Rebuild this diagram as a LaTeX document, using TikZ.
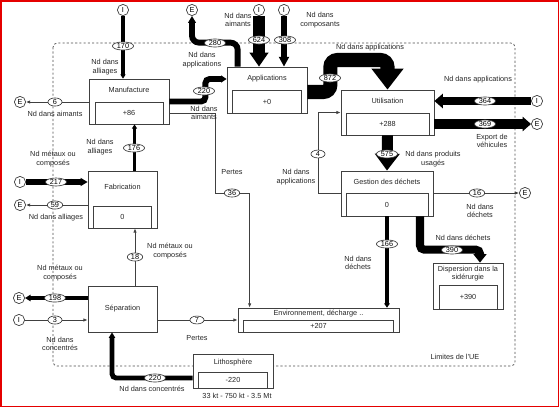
\documentclass[tikz,border=0pt]{standalone}
\usepackage{fontspec}
\setmainfont{Liberation Sans}
\usepackage{tikz}
\usetikzlibrary{shapes,arrows.meta}
\usetikzlibrary{calc}

\tikzset{
  txt/.style={font=\fontsize{5.2}{6.2}\selectfont, text=black!85, align=center, inner sep=0pt},
  box/.style={draw=black!75, fill=white, line width=0.5pt, inner sep=0pt, font=\fontsize{5.2}{6.2}\selectfont, text=black!85, align=center},
  term/.style={circle, draw=black!75, fill=white, line width=0.5pt, inner sep=0pt, minimum size=0.28cm, font=\fontsize{5.2}{6.2}\selectfont},
  lbl/.style={ellipse, draw=black!80, fill=white, line width=0.45pt, inner xsep=1pt, inner ysep=0.2pt, minimum height=5.6pt, minimum width=10pt, font=\fontsize{5.2}{6.2}\selectfont},
  loss/.style={draw=black!75, line width=0.55pt, -{Latex[length=3pt,width=2.4pt]}},
  flow/.style={draw=black, line width=#1},
}

\begin{document}
\begin{tikzpicture}[x=0.025cm, y=-0.025cm]
	\useasboundingbox (0,0) rectangle (560,408);
	\draw[red!90!black, line width=1.4pt] (1,1) rectangle (558.5,406.5);
	
	% limites de l'UE
	\draw[black!70, line width=0.5pt, dash pattern=on 1.5pt off 1.5pt, rounded corners=3pt] (53,43) rectangle (515,366);
	\node[txt] (limits) at (455,357) {Limites de l'UE};
	
	% processus
	\node[box, minimum width=2cm, minimum height=1.125cm] (manu) at (129,101.5) {};
	\node[box, minimum width=1.7cm, minimum height=0.55cm, anchor=south] (manuv) at (manu.south) {+86};
	\node[txt] (manut) at ($(manu.north)!0.5!(manuv.north)$) {Manufacture};
	
	\node[box, minimum width=2cm, minimum height=1.15cm] (appl) at (267,90) {};
	\node[box, minimum width=1.725cm, minimum height=0.575cm, anchor=south] (applv) at (appl.south) {+0};
	\node[txt] (applt) at ($(appl.north)!0.5!(applv.north)$) {Applications};
	
	\node[box, minimum width=2.325cm, minimum height=1.125cm] (util) at (387.5,112.5) {};
	\node[box, minimum width=2.075cm, minimum height=0.55cm, anchor=south] (utilv) at (util.south) {+288};
	\node[txt] (utilt) at ($(util.north)!0.5!(utilv.north)$) {Utilisation};
	
	\node[box, minimum width=2.3cm, minimum height=1.125cm] (gest) at (387,193.5) {};
	\node[box, minimum width=2.05cm, minimum height=0.575cm, anchor=south] (gestv) at (gest.south) {0};
	\node[txt] (gestt) at ($(gest.north)!0.5!(gestv.north)$) {Gestion des d\'echets};
	
	\node[box, minimum width=1.725cm, minimum height=1.425cm] (fabr) at (122.5,199.5) {};
	\node[box, minimum width=1.45cm, minimum height=0.55cm, anchor=south] (fabrv) at (fabr.south) {0};
	\node[txt] (fabrt) at ($(fabr.north)!0.45!(fabrv.north)$) {Fabrication};
	
	\node[box, minimum width=1.725cm, minimum height=1.15cm] (sepa) at (122.5,309) {S\'eparation};
	
	\node[box, minimum width=4.025cm, minimum height=0.6cm] (envi) at (318.5,320) {};
	\node[box, minimum width=3.75cm, minimum height=0.3cm, anchor=south] (enviv) at (envi.south) {+207};
	\node[txt] (envit) at ($(envi.north)!0.5!(enviv.north)$) {Environnement, d\'echarge ..};
	
	\node[box, minimum width=2cm, minimum height=0.85cm] (litho) at (233,371) {};
	\node[box, minimum width=1.725cm, minimum height=0.4cm, anchor=south] (lithov) at (litho.south) {-220};
	\node[txt] (lithot) at ($(litho.north)!0.5!(lithov.north)$) {Lithosph\`ere};
	\node[txt] (lithor) at (237,396) {33 kt - 750 kt - 3.5 Mt};
	
	\node[box, minimum width=1.75cm, minimum height=1.15cm] (disp) at (468,286) {};
	\node[box, minimum width=1.45cm, minimum height=0.6cm, anchor=south] (dispv) at (disp.south) {+390};
	\node[txt] (dispt) at ($(disp.north)!0.5!(dispv.north)$) {Dispersion dans la\\sid\'erurgie};
	
	% importations / exportations
	\node[term] (iManu) at (123,10) {I};
	\node[term] (eAppl) at (192,10) {E};
	\node[term] (iAim) at (259,10) {I};
	\node[term] (iComp) at (284,10) {I};
	\node[term] (eAim) at (20,102) {E};
	\node[term] (iUtil) at (537,101) {I};
	\node[term] (eUtil) at (537,124) {E};
	\node[term] (eDech) at (525,193) {E};
	\node[term] (iFab) at (20,182) {I};
	\node[term] (eFab) at (20,205) {E};
	\node[term] (eSep) at (19,298) {E};
	\node[term] (iSep) at (19,320) {I};
	
	% flux
	\draw[flow=2.8pt, -{Triangle[length=3pt,width=3.6pt]}] (iManu) -- (iManu |- manu.north);
	\draw[flow=4.2pt, rounded corners=5pt, -{Triangle[length=5pt,width=5.5pt]}] ($(appl.north west)+(11,0)$) -- ++(0,-24) -| (eAppl);
	\draw[flow=9pt, -{Triangle[length=10pt,width=13pt]}] (iAim) -- (iAim |- appl.north);
	\draw[flow=4.2pt, -{Triangle[length=7pt,width=7pt]}] (iComp) -- (iComp |- appl.north);
	\draw[flow=4.2pt, rounded corners=3pt, -{Triangle[length=4pt,width=5pt]}] (manu.east) -- ++(36,0) |- ($(appl.west)+(0,-11)$);
	\draw[flow=10pt, rounded corners=5pt, -{Triangle[length=15pt,width=22pt]}] ($(appl.east)+(0,2)$) -| ++(23,-32) -| (util.north);
	\draw[flow=5.7pt, -{Triangle[length=6pt,width=10pt]}] (iUtil) -- (iUtil -| util.east);
	\draw[flow=7.8pt, -{Triangle[length=6pt,width=10pt]}] (eUtil -| util.east) -- (eUtil);
	\draw[flow=7.8pt, -{Triangle[length=12pt,width=17pt]}] (util.south) -- (gest.north);
	\draw[flow=5.7pt, rounded corners=3pt, -{Triangle[length=6pt,width=9pt]}] ($(gest.south)+(33,0)$) |- ($(disp.north)+(12,-13)$) -- ($(disp.north)+(12,0)$);
	\draw[flow=3.5pt, -{Triangle[length=3pt,width=4pt]}] (gest.south) -- (gest.south |- envi.north);
	\draw[flow=2.8pt, -{Triangle[length=3pt,width=3.5pt]}] ($(fabr.north)+(12,0)$) -- ($(manu.south)+(5.5,0)$);
	\draw[flow=4pt, -{Triangle[length=5pt,width=5.5pt]}] (iFab) -- (iFab -| fabr.west);
	\draw[flow=3.5pt, -{Triangle[length=4pt,width=4.5pt]}] (sepa.west |- eSep) -- (eSep);
	\draw[flow=3.5pt, rounded corners=3pt, -{Triangle[length=4pt,width=4.5pt]}] ($(litho.west)+(0,7)$) -| ($(sepa.south)+(-10.5,0)$);
	
	\draw[loss] (manu.west |- eAim) -- (eAim);
	\draw[loss] ($(manu.east)+(0,11.5)$) -| ++(46,80) -| ($(envi.north west)+(12,0)$);
	\draw[loss] (gest.west) -- ++(-22,0) |- (util.west);
	\draw[loss] (gest.east |- eDech) -- (eDech);
	\draw[loss] (fabr.west |- eFab) -- (eFab);
	\draw[loss] ($(sepa.north)+(12.5,0)$) -- ($(fabr.south)+(12.5,0)$);
	\draw[loss] (iSep) -- (iSep -| sepa.west);
	\draw[loss] (sepa.east |- envi.west) -- (envi.west);
	
	% valeurs
	\node[lbl] (v170) at (123,46) {170};
	\node[lbl] (v280) at (215,43) {280};
	\node[lbl] (v624) at (259,40) {624};
	\node[lbl] (v308) at (285,40) {308};
	\node[lbl] (v6) at (55,102) {6};
	\node[lbl] (v220a) at (204,91) {220};
	\node[lbl] (v872) at (330,78) {872};
	\node[lbl] (v364) at (485,101) {364};
	\node[lbl] (v369) at (485,124) {369};
	\node[lbl] (v575) at (387,154) {575};
	\node[lbl] (v4) at (318,154) {4};
	\node[lbl] (v16) at (477,193) {16};
	\node[lbl] (v390) at (452,250) {390};
	\node[lbl] (v166) at (387,244) {166};
	\node[lbl] (v36) at (232,193) {36};
	\node[lbl] (v176) at (134,148) {176};
	\node[lbl] (v217) at (56,182) {217};
	\node[lbl] (v59) at (55,205) {59};
	\node[lbl] (v18) at (135,257) {18};
	\node[lbl] (v198) at (55,298) {198};
	\node[lbl] (v3) at (55,320) {3};
	\node[lbl] (v7) at (197,320) {7};
	\node[lbl] (v220b) at (155,378) {220};
	
	% textes
	\node[txt] (t170) at (105,67) {Nd dans\\alliages};
	\node[txt] (t280) at (202,60) {Nd dans\\applications};
	\node[txt] (t624) at (238,20) {Nd dans\\aimants};
	\node[txt] (t308) at (320,20) {Nd dans\\composants};
	\node[txt] (t6) at (55,114) {Nd dans aimants};
	\node[txt] (t220a) at (204,113) {Nd dans\\aimants};
	\node[txt] (t872) at (370,48) {Nd dans applications};
	\node[txt] (t364) at (478,80) {Nd dans applications};
	\node[txt] (t369) at (492,141) {Export de\\v\'ehicules};
	\node[txt] (t575) at (433,159) {Nd dans produits\\usag\'es};
	\node[txt] (t4) at (296,177) {Nd dans\\applications};
	\node[txt] (t16) at (480,211) {Nd dans\\d\'echets};
	\node[txt] (t390) at (463,238) {Nd dans d\'echets};
	\node[txt] (t166) at (358,263) {Nd dans\\d\'echets};
	\node[txt] (t36) at (232,172) {Pertes};
	\node[txt] (t176) at (100,147) {Nd dans\\alliages};
	\node[txt] (t217) at (53,159) {Nd m\'etaux ou\\compos\'es};
	\node[txt] (t59) at (56,218) {Nd dans alliages};
	\node[txt] (t18) at (170,251) {Nd m\'etaux ou\\compos\'es};
	\node[txt] (t198) at (60,273) {Nd m\'etaux ou\\compos\'es};
	\node[txt] (t3) at (60,344) {Nd dans\\concentr\'es};
	\node[txt] (t7) at (197,338) {Pertes};
	\node[txt] (t220b) at (152,389) {Nd dans concentr\'es};
\end{tikzpicture}
\end{document}
